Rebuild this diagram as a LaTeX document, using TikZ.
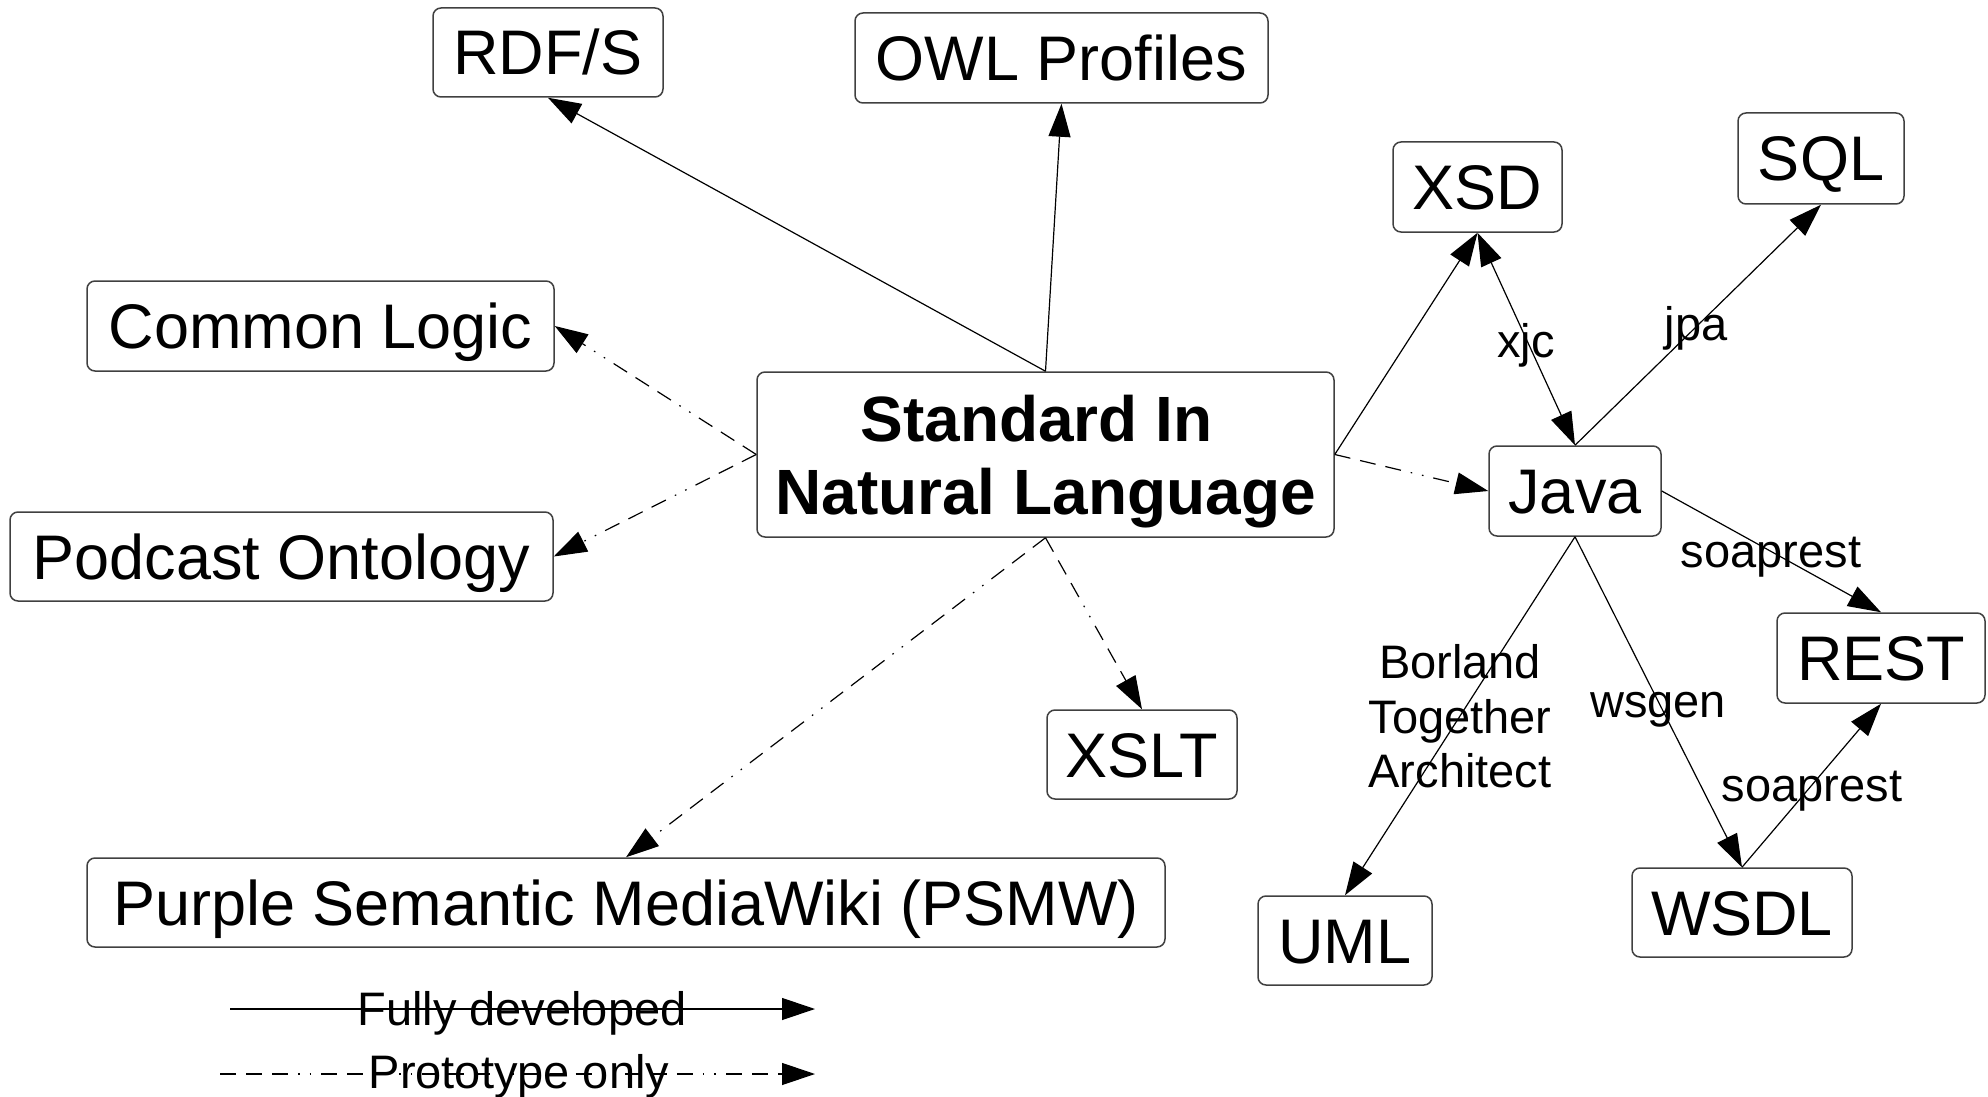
\documentclass[tikz,border=0pt]{standalone}
\usepackage{fontspec}
\setmainfont{Liberation Sans}
\usetikzlibrary{arrows.meta}
\begin{document}
\begin{tikzpicture}[x=0.5pt,y=-0.5pt,
  basebox/.style={draw=black!75, line width=0.75pt, rounded corners=4pt, inner sep=0pt, align=center},
  box/.style={basebox, font=\fontsize{31.5}{36}\selectfont, text height=22.5pt, text depth=0pt},
  tip/.tip={Triangle[length=16.5pt,width=11pt]},
  full/.style={draw=black, line width=0.6pt, -tip},
  proto/.style={full, dash pattern=on 8pt off 5pt on 8pt off 5pt on 8pt off 5pt on 0.8pt off 5pt on 0.8pt off 5pt},
  lab/.style={anchor=base, inner sep=0pt, font=\fontsize{23.5}{27.25}\selectfont, align=center}
]
\useasboundingbox (0,0) rectangle (1988,1097);

% nodes
\node[box, minimum width=115pt,   minimum height=44.5pt] (rdfs)  at (548,52.5)    {RDF/S};
\node[box, minimum width=206.5pt, minimum height=45pt]   (owl)   at (1061.5,58)   {OWL Profiles};
\node[box, minimum width=84.5pt,  minimum height=45pt]   (xsd)   at (1477.5,187)  {XSD};
\node[box, minimum width=83pt,    minimum height=45.5pt] (sql)   at (1821,158.5)  {SQL};
\node[box, minimum width=233.5pt, minimum height=45pt]   (cl)    at (320.5,326)   {Common Logic};
\node[basebox, minimum width=288.5pt, minimum height=82.5pt, text depth=0pt,
      font=\bfseries\fontsize{32}{36.5}\selectfont] (std) at (1045.5,454.5)
      {\parbox[b]{280pt}{\centering Standard In\kern9pt\\Natural Language}};
\node[box, minimum width=86pt,    minimum height=45pt]   (java)  at (1575,491)    {Java};
\node[box, minimum width=271.5pt, minimum height=44.5pt] (pod)   at (281.5,556.5) {Podcast Ontology};
\node[box, minimum width=104pt,   minimum height=45pt]   (rest)  at (1881,658)    {REST};
\node[box, minimum width=95pt,    minimum height=44.5pt] (xslt)  at (1142,754.5)  {XSLT};
\node[box, minimum width=539pt,   minimum height=44.5pt] (psmw)  at (626,902.5)   {Purple Semantic MediaWiki (PSMW)};
\node[box, minimum width=87pt,    minimum height=44.5pt] (uml)   at (1345,940.5)  {UML};
\node[box, minimum width=110pt,   minimum height=44.5pt] (wsdl)  at (1742,912.5)  {WSDL};

% connectors
\draw[full]  (std.north) -- (rdfs.south);
\draw[full]  (std.north) -- (owl.south);
\draw[proto] (std.west)  -- (cl.east);
\draw[proto] (std.west)  -- (pod.east);
\draw[proto] (std.south) -- (psmw.north);
\draw[proto] (std.south) -- (xslt.north);
\draw[full]  (std.east)  -- (xsd.south);
\draw[proto] (std.east)  -- (java.west);
\draw[full, tip-tip] (java.north) -- (xsd.south);
\draw[full]  (java.north) -- (sql.south);
\draw[full]  (java.east)  -- (rest.north);
\draw[full]  (wsdl.north) -- (rest.south);
\draw[full]  (java.south) -- (wsdl.north);
\draw[full]  (java.south) -- (uml.north);

% edge labels
\node[lab] (lxjc)  at (1526,357) {xjc};
\node[lab] (ljpa)  at (1696,340) {jpa};
\node[lab] (lsr1)  at (1771,567) {soaprest};
\node[lab] (lsr2)  at (1812,801) {soaprest};
\node[lab] (lwsg)  at (1658,717) {wsgen};
\node[lab] (lbor1) at (1460,678) {Borland};
\node[lab] (lbor2) at (1460,733) {Together};
\node[lab] (lbor3) at (1460,787) {Architect};

% legend
\coordinate (fa) at (230,1009);
\coordinate (fb) at (815,1009);
\coordinate (pa) at (220,1074);
\coordinate (pb) at (815,1074);
\draw[full]  (fa) -- (fb);
\draw[proto] (pa) -- (pb);
\node[lab] (lfull)  at (522,1025) {Fully developed};
\node[lab] (lproto) at (519,1088) {Prototype only};
\end{tikzpicture}
\end{document}
